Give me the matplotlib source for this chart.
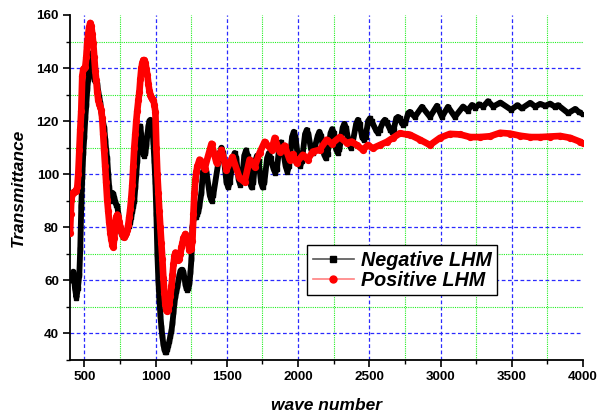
import matplotlib
matplotlib.use("Agg")
import matplotlib.pyplot as plt
from matplotlib.lines import Line2D
from matplotlib.ticker import MultipleLocator

plt.rcParams['font.family'] = ['Liberation Sans', 'DejaVu Sans']
plt.rcParams['font.weight'] = 'bold'

# Negative LHM (black squares)
neg_x = [400, 410, 423, 435, 445, 455, 465, 472, 479, 486, 493, 500, 507, 514, 521, 528, 535, 542, 549,
         556, 563, 570, 577, 584, 591, 598, 605, 612, 619, 626, 633, 640, 647, 654, 661, 668, 675, 683,
         690, 697, 704, 711, 718, 725, 732, 739, 746, 753, 760, 767, 774, 781, 788, 795, 802, 809, 816,
         823, 830, 837, 844, 851, 858, 865, 872, 880, 887, 894, 901, 908, 915, 922, 929, 936, 943, 950,
         957, 964, 971, 978, 985, 992, 999, 1006, 1013, 1020, 1027, 1034, 1041, 1048, 1055, 1062, 1069,
         1076, 1083, 1090, 1097, 1104, 1112, 1119, 1126, 1133, 1140, 1147, 1154, 1161, 1168, 1175, 1182,
         1189, 1196, 1203, 1210, 1217, 1224, 1231, 1238, 1245, 1252, 1259, 1266, 1273, 1280, 1287, 1294,
         1301, 1308, 1322, 1333, 1345, 1357, 1381, 1393, 1405, 1451, 1463, 1475, 1498, 1510, 1522, 1543,
         1555, 1567, 1583, 1595, 1607, 1623, 1635, 1647, 1662, 1674, 1686, 1700, 1712, 1724, 1740, 1752,
         1764, 1783, 1795, 1807, 1828, 1840, 1852, 1868, 1880, 1892, 1913, 1925, 1937, 1958, 1970, 1982,
         2003, 2015, 2027, 2049, 2061, 2073, 2091, 2103, 2115, 2138, 2150, 2162, 2183, 2195, 2207, 2228,
         2240, 2252, 2267, 2279, 2291, 2313, 2325, 2337, 2358, 2370, 2382, 2408, 2420, 2432, 2450, 2462,
         2474, 2492, 2504, 2516, 2548, 2560, 2572, 2597, 2609, 2621, 2647, 2659, 2671, 2689, 2701, 2713,
         2728, 2740, 2752, 2773, 2785, 2820, 2870, 2926, 2975, 3010, 3052, 3101, 3158, 3190, 3221, 3245,
         3270, 3300, 3333, 3370, 3420, 3495, 3540, 3570, 3629, 3665, 3699, 3735, 3769, 3800, 3825, 3896,
         3945, 3970, 4000]
neg_y = [61, 60, 63.3, 57, 53.5, 57, 62, 72, 88, 99, 108, 114, 121, 126, 132, 136, 140, 143, 145.5,
         143, 139, 136, 135, 135, 134, 131, 129, 127, 124, 121, 119, 117.5, 113, 109, 106, 100, 95, 90,
         91, 93, 92.5, 91, 89.5, 88.5, 88, 85, 82, 79, 78, 77, 76.5, 76.5, 77, 78, 79, 80, 80.5,
         82, 84, 86, 88, 90, 95, 100, 105, 112, 117, 118, 114, 110, 107.5, 107, 108, 111, 115, 118,
         120, 120.5, 120, 117, 112, 105, 97, 85, 70, 60, 53, 47, 42.5, 39, 36, 34, 33,
         33, 34, 35.5, 37, 39, 41, 44, 48, 51.6, 54, 56, 57.7, 60, 62, 63.5, 64,
         64, 63, 61, 58.5, 57, 56.5, 57, 59, 63, 68, 80, 83, 84, 84, 84, 85,
         86, 88, 93, 101, 103, 101, 92, 90, 92, 108, 110, 108, 97, 95, 97, 106,
         108, 106, 98, 96, 98, 107, 109, 107, 97, 95, 97, 105, 107, 105, 97, 95,
         97, 106, 108, 106, 102, 100.5, 102, 110, 112, 110, 103, 101, 103, 114, 116, 114,
         105, 103, 105, 115, 116.7, 115, 109.5, 108, 109.5, 114.5, 116, 114.5, 107.5, 106, 107.5, 115.5,
         117, 115.5, 109.5, 108, 109.5, 117.5, 119, 117.5, 111.5, 110, 111.5, 119, 120.5, 119, 114, 113,
         114, 120, 121, 120, 116.5, 115.6, 116.5, 119.7, 120.5, 119.7, 116.8, 116, 116.8, 121, 121.6, 121,
         119.2, 118.6, 119.2, 123, 123.5, 121.6, 125.4, 121.6, 125.8, 121.6, 125.4, 121.6, 125.5, 124, 126.1, 125,
         126.3, 125.5, 127.5, 125.5, 127, 124.3, 126, 124.8, 126.9, 125.5, 126.5, 125.8, 126.6, 125.5, 126, 123,
         124.6, 123.5, 122.7]

# Positive LHM (red circles)
pos_x = [400, 405, 409, 420, 430, 440, 451, 458, 465, 472, 479, 486, 493, 500, 507, 514, 521, 528, 535,
         542, 549, 556, 563, 570, 577, 584, 591, 598, 605, 612, 619, 626, 633, 640, 647, 654, 661, 668,
         675, 683, 690, 697, 704, 711, 718, 725, 732, 739, 746, 753, 760, 767, 774, 781, 788, 795, 802,
         809, 816, 823, 830, 837, 844, 851, 858, 865, 872, 880, 887, 894, 901, 908, 915, 922, 929, 936,
         943, 950, 957, 964, 971, 978, 985, 992, 999, 1006, 1013, 1020, 1027, 1034, 1041, 1048, 1055,
         1062, 1069, 1076, 1083, 1090, 1097, 1104, 1112, 1119, 1126, 1133, 1140, 1147, 1154, 1161, 1168,
         1175, 1182, 1189, 1196, 1210, 1224, 1238, 1252, 1259, 1266, 1273, 1280, 1287, 1294, 1309, 1344,
         1393, 1428, 1463, 1498, 1540, 1590, 1625, 1660, 1695, 1730, 1766, 1815, 1836, 1871, 1906, 1941,
         1962, 1990, 2033, 2068, 2103, 2152, 2201, 2237, 2293, 2342, 2377, 2412, 2455, 2490, 2525, 2574,
         2623, 2666, 2715, 2764, 2785, 2856, 2926, 2996, 3066, 3137, 3207, 3277, 3348, 3418, 3488, 3558,
         3629, 3699, 3769, 3840, 3910, 3980, 4000]
pos_y = [78, 85, 90.4, 93, 93.4, 93.5, 95, 100, 109, 117, 124, 137, 139.5, 140, 140.4, 144, 149.5, 153, 155.5,
         157, 156, 153, 149.5, 144, 139, 135.5, 131, 128, 126.5, 125.5, 124.3, 121, 115, 109, 103, 97, 90.4, 86,
         82, 78, 75.5, 73.5, 72.7, 76, 81.7, 84, 84.8, 84, 82, 80.2, 78.5, 77.3, 76.6, 76.5, 77, 78, 79,
         81, 84, 87, 91, 96, 103, 110, 115, 120, 124, 128, 131, 136, 140, 142, 143, 143, 142, 139.5,
         137.4, 134, 131.5, 130, 129, 128.5, 128, 126, 123.5, 110, 100, 93, 86, 80, 74, 68, 61,
         55.4, 51, 49, 48.3, 49, 51, 54, 57.7, 62, 66, 69, 70.5, 70, 68.5, 67.5, 68,
         70, 72.5, 74, 76, 77.5, 75, 71.6, 72, 75, 85, 93, 98, 101, 103, 105.5, 102,
         111.5, 104.3, 109.2, 101.7, 106.5, 98.5, 97, 105.5, 102.8, 108, 112.2, 109.2, 113.7, 108.5, 110.8, 105.5,
         107.5, 104.3, 107.3, 105.5, 108.5, 109.2, 113, 111.5, 114, 111.8, 112.3, 111, 109.2, 111, 109.8, 111,
         112.2, 113.7, 115.4, 115, 114.9, 113, 111, 113.7, 115.2, 115, 114, 114, 114.3, 115.6, 115.3, 114.5,
         114, 114, 114.2, 114.4, 113.7, 112.2, 111.8]

x_ticks = [500, 1000, 1500, 2000, 2500, 3000, 3500, 4000]
y_ticks = [40, 60, 80, 100, 120, 140, 160]
labels = ['Negative LHM', 'Positive LHM']

fig = plt.figure(figsize=(6, 4.16), dpi=100)
ax = fig.add_axes([0.1167, 0.1346, 0.855, 0.8294])

ax.plot(neg_x, neg_y, color='black', lw=4.2, marker='s', ms=3.2,
        solid_joinstyle='round', solid_capstyle='round', zorder=3)
ax.plot(pos_x, pos_y, color='red', lw=4.8, marker='o', ms=4.2,
        solid_joinstyle='round', solid_capstyle='round', zorder=4)

ax.set_xlim(400, 4000)
ax.set_ylim(30, 160)
ax.set_xticks(x_ticks)
ax.set_yticks(y_ticks)
ax.xaxis.set_minor_locator(MultipleLocator(250))
ax.yaxis.set_minor_locator(MultipleLocator(10))

# grid: blue dashed major, green dotted minor
ax.grid(which='major', color='#2a2aff', linestyle=(0, (3, 2)), lw=0.9, zorder=0)
ax.grid(which='minor', color='#22ee22', linestyle=(0, (1, 1)), lw=0.8, zorder=0)
ax.set_axisbelow(True)
ax.xaxis.get_major_ticks()[-1].gridline.set_visible(False)
ax.yaxis.get_major_ticks()[-1].gridline.set_visible(False)

for s in ['top', 'right']:
    ax.spines[s].set_visible(False)
for s in ['left', 'bottom']:
    ax.spines[s].set_linewidth(1.3)

ax.tick_params(which='major', direction='out', length=5, width=1.2, labelsize=9.7, pad=3)
ax.tick_params(which='minor', direction='out', length=3, width=1.0)

ax.set_xlabel('wave number', fontsize=12.5, fontweight='bold', style='italic', labelpad=11)
ax.set_ylabel('Transmittance', fontsize=12.5, fontweight='bold', style='italic', labelpad=8)

h1 = Line2D([], [], color='#555555', lw=1.2, marker='s', ms=4, mfc='black', mec='black')
h2 = Line2D([], [], color='#ff8080', lw=1.2, marker='o', ms=5, mfc='red', mec='red')
leg = ax.legend([h1, h2], labels, loc='upper left', bbox_to_anchor=(0.462, 0.333),
                borderaxespad=0, fancybox=False, edgecolor='black', framealpha=1,
                prop=dict(weight='bold', style='italic', size=14.2),
                handlelength=2.1, handletextpad=0.35, labelspacing=0.05, borderpad=0.28)
leg.get_frame().set_linewidth(1.0)
leg.set_zorder(5)

plt.savefig('out.png', dpi=100)
